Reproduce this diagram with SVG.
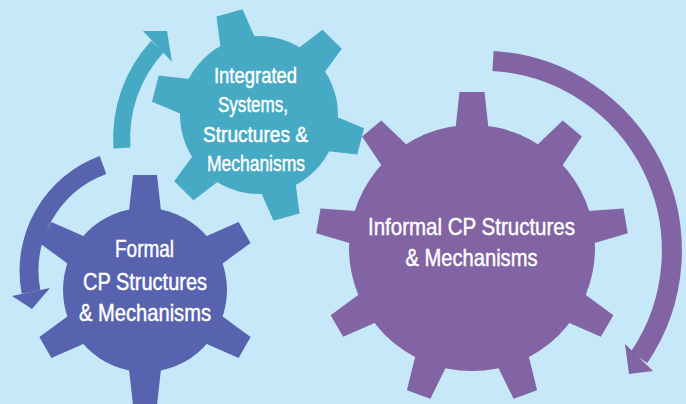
<svg xmlns="http://www.w3.org/2000/svg" xmlns:xlink="http://www.w3.org/1999/xlink" width="686" height="404" viewBox="0 0 686 404">
  <style>
    .bg { fill: #c6e8f8; }
    .teal { fill: #47aac4; }
    .blue { fill: #5763ae; }
    .purple { fill: #8263a3; }
    .arc { fill: none; stroke-linecap: butt; }
    .arc.teal { stroke: #47aac4; stroke-width: 17; fill: none; }
    .arc.blue { stroke: #5763ae; stroke-width: 19; fill: none; }
    .arc.purple { stroke: #8263a3; stroke-width: 20; fill: none; }
    .label { fill: #ffffff; stroke: #ffffff; stroke-width: 0.45; font-family: "Liberation Sans Narrow", "Liberation Sans", Arial, sans-serif; text-anchor: middle; }
    .big { font-size: 24px; }
    .small { font-size: 22px; }
  </style>
  <defs>
    <path id="tooth-purple" d="M -17.5,-110 L -12.5,-156 L 12.5,-156 L 17.5,-110 Z"/>
    <path id="tooth-blue" d="M -17,-70 L -12,-115 L 12,-115 L 17,-70 Z"/>
    <path id="tooth-teal" d="M -19,-68 L -13.5,-106 L 13.5,-106 L 19,-68 Z"/>
  </defs>

  <rect class="bg" x="0" y="0" width="686" height="404"/>

  <g id="gear-informal" class="purple">
    <circle cx="472" cy="248" r="123"/>
    <use xlink:href="#tooth-purple" transform="translate(472,248) rotate(0)"/>
    <use xlink:href="#tooth-purple" transform="translate(472,248) rotate(40)"/>
    <use xlink:href="#tooth-purple" transform="translate(472,248) rotate(80)"/>
    <use xlink:href="#tooth-purple" transform="translate(472,248) rotate(120)"/>
    <use xlink:href="#tooth-purple" transform="translate(472,248) rotate(160)"/>
    <use xlink:href="#tooth-purple" transform="translate(472,248) rotate(200)"/>
    <use xlink:href="#tooth-purple" transform="translate(472,248) rotate(240)"/>
    <use xlink:href="#tooth-purple" transform="translate(472,248) rotate(280)"/>
    <use xlink:href="#tooth-purple" transform="translate(472,248) rotate(320)"/>
    <text class="label big" x="471.5" y="235" textLength="207" lengthAdjust="spacingAndGlyphs">Informal CP Structures</text>
    <text class="label big" x="471.5" y="266" textLength="132" lengthAdjust="spacingAndGlyphs">&amp; Mechanisms</text>
  </g>

  <g id="gear-integrated" class="teal">
    <circle cx="259" cy="115" r="79"/>
    <use xlink:href="#tooth-teal" transform="translate(258,115) rotate(-15.6)"/>
    <use xlink:href="#tooth-teal" transform="translate(258,115) rotate(44.4)"/>
    <use xlink:href="#tooth-teal" transform="translate(258,115) rotate(104.4)"/>
    <use xlink:href="#tooth-teal" transform="translate(258,115) rotate(164.4)"/>
    <use xlink:href="#tooth-teal" transform="translate(258,115) rotate(224.4)"/>
    <use xlink:href="#tooth-teal" transform="translate(258,115) rotate(284.4)"/>
    <text class="label small" x="255.5" y="83" textLength="83" lengthAdjust="spacingAndGlyphs">Integrated</text>
    <text class="label small" x="253" y="112" textLength="70" lengthAdjust="spacingAndGlyphs">Systems,</text>
    <text class="label small" x="255.5" y="142" textLength="105" lengthAdjust="spacingAndGlyphs">Structures &amp;</text>
    <text class="label small" x="256" y="171" textLength="98" lengthAdjust="spacingAndGlyphs">Mechanisms</text>
  </g>

  <g id="gear-formal" class="blue">
    <circle cx="145" cy="290" r="82"/>
    <use xlink:href="#tooth-blue" transform="translate(145,290) rotate(0)"/>
    <use xlink:href="#tooth-blue" transform="translate(145,290) rotate(60)"/>
    <use xlink:href="#tooth-blue" transform="translate(145,290) rotate(120)"/>
    <use xlink:href="#tooth-blue" transform="translate(145,290) rotate(180)"/>
    <use xlink:href="#tooth-blue" transform="translate(145,290) rotate(240)"/>
    <use xlink:href="#tooth-blue" transform="translate(145,290) rotate(300)"/>
    <text class="label big" x="144.5" y="257" textLength="59" lengthAdjust="spacingAndGlyphs">Formal</text>
    <text class="label big" x="145" y="290" textLength="124" lengthAdjust="spacingAndGlyphs">CP Structures</text>
    <text class="label big" x="145" y="321" textLength="132" lengthAdjust="spacingAndGlyphs">&amp; Mechanisms</text>
  </g>

  <g id="connectors">
    <path class="arc teal" d="M 122,148 A 135 135 0 0 1 157.5,46.5"/>
    <polygon class="teal" points="143,31 167,31 172,62"/>
    <path class="arc blue" d="M 103,165 A 113 113 0 0 0 31,292"/>
    <polygon class="blue" points="12,296 50,288 32,309"/>
    <path class="arc purple" d="M 493,61 A 190 190 0 0 1 639,357.5"/>
    <polygon class="purple" points="625,344 653,371 629,374"/>
  </g>
</svg>
